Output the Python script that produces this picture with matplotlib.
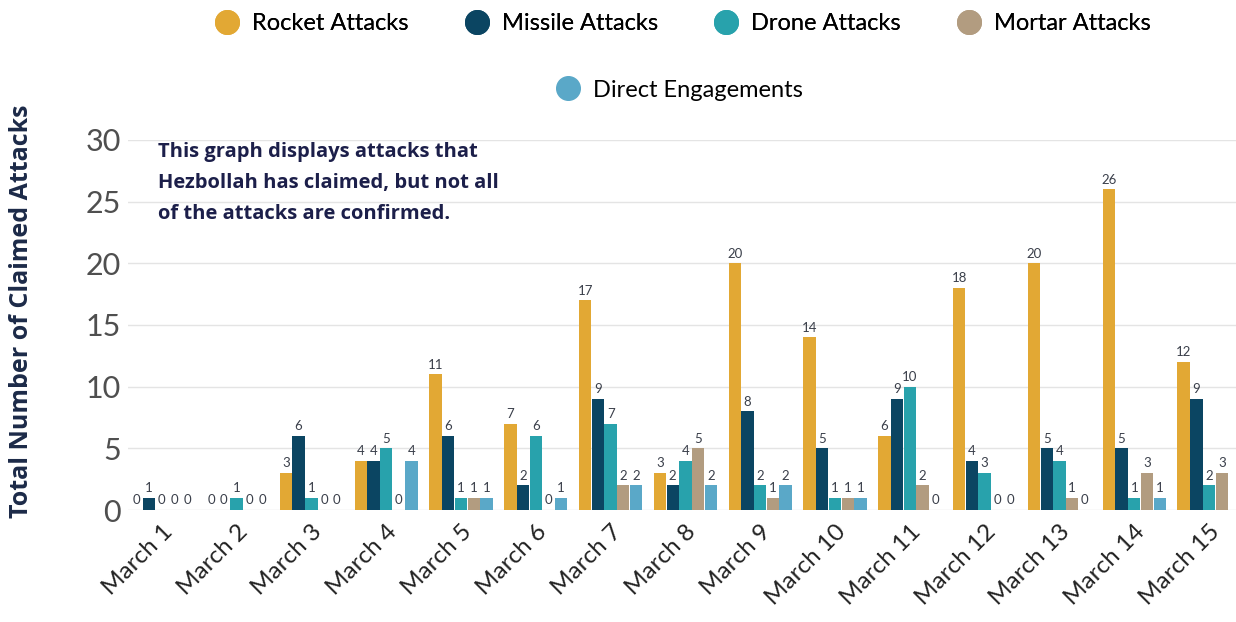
import numpy as np
import matplotlib.pyplot as plt
from matplotlib.lines import Line2D

days = [f'March {i}' for i in range(1, 16)]
rocket = [0, 0, 3, 4, 11, 7, 17, 3, 20, 14, 6, 18, 20, 26, 12]
missile = [1, 0, 6, 4, 6, 2, 9, 2, 8, 5, 9, 4, 5, 5, 9]
drone = [0, 1, 1, 5, 1, 6, 7, 4, 2, 1, 10, 3, 4, 1, 2]
mortar = [0, 0, 0, 0, 1, 0, 2, 5, 1, 1, 2, 0, 1, 3, 3]
direct = [0, 0, 0, 4, 1, 1, 2, 2, 2, 1, 0, 0, 0, 1, np.nan]  # last one cut off in source

series = [
    ('Rocket Attacks', rocket, '#E2A834'),
    ('Missile Attacks', missile, '#0B4562'),
    ('Drone Attacks', drone, '#28A2AC'),
    ('Mortar Attacks', mortar, '#B29C80'),
    ('Direct Engagements', direct, '#5AA8C8'),
]

plt.rcParams['font.family'] = ['Lato', 'DejaVu Sans']

fig = plt.figure(figsize=(12.36, 6.22), dpi=100)
ax = fig.add_axes([0.1036, 0.18, 0.8964, 0.595])

x = np.arange(len(days))
step = 0.17
width = 0.165
for k, (name, vals, col) in enumerate(series):
    pos = x + (k - 2) * step
    vals = np.array(vals, dtype=float)
    ax.bar(pos, vals, width=width, color=col, zorder=3)
    for p, v in zip(pos, vals):
        if np.isnan(v):
            continue
        ax.text(p, v + 0.3, f'{int(v)}', ha='center', va='bottom',
                fontsize=9.5, color='#3a3f4a', zorder=4)

ax.set_xlim(-0.45, 14.36)
ax.set_ylim(0, 30)
ax.set_yticks(range(0, 31, 5))
ax.yaxis.grid(True, color='#e4e4e4', linewidth=1, zorder=0)
ax.set_axisbelow(True)
for s in ax.spines.values():
    s.set_visible(False)
ax.tick_params(length=0)
ax.tick_params(axis='y', labelsize=22, labelcolor='#4f4f4f', pad=5)
ax.set_xticks(x)
ax.set_xticklabels(days, rotation=45, ha='right', rotation_mode='anchor',
                   fontsize=17.5, color='#222222')
ax.tick_params(axis='x', pad=8)

fig.text(0.017, 0.5, 'Total Number of Claimed Attacks', rotation=90,
         ha='center', va='center', fontsize=18, fontweight='bold',
         color='#1c2a48', family=['Open Sans', 'DejaVu Sans'])

ax.text(0.027, 0.995, 'This graph displays attacks that\nHezbollah has claimed, but not all\nof the attacks are confirmed.',
        transform=ax.transAxes, ha='left', va='top', fontsize=14.5,
        fontweight='bold', color='#1c1f4a', linespacing=1.75,
        family=['Open Sans', 'DejaVu Sans'])

def handle(col):
    return Line2D([], [], marker='o', linestyle='none', markersize=17,
                  markerfacecolor=col, markeredgecolor=col)

top = fig.legend([handle(c) for _, _, c in series[:4]], [n for n, _, _ in series[:4]],
                 loc='center', bbox_to_anchor=(0.548, 0.962), ncol=4, frameon=False,
                 fontsize=17, handletextpad=0.05, columnspacing=1.9)
fig.legend([handle(series[4][2])], [series[4][0]],
           loc='center', bbox_to_anchor=(0.545, 0.855), frameon=False,
           fontsize=17, handletextpad=0.05)
fig.add_artist(top)

fig.savefig('out.png', dpi=100, facecolor='white')
